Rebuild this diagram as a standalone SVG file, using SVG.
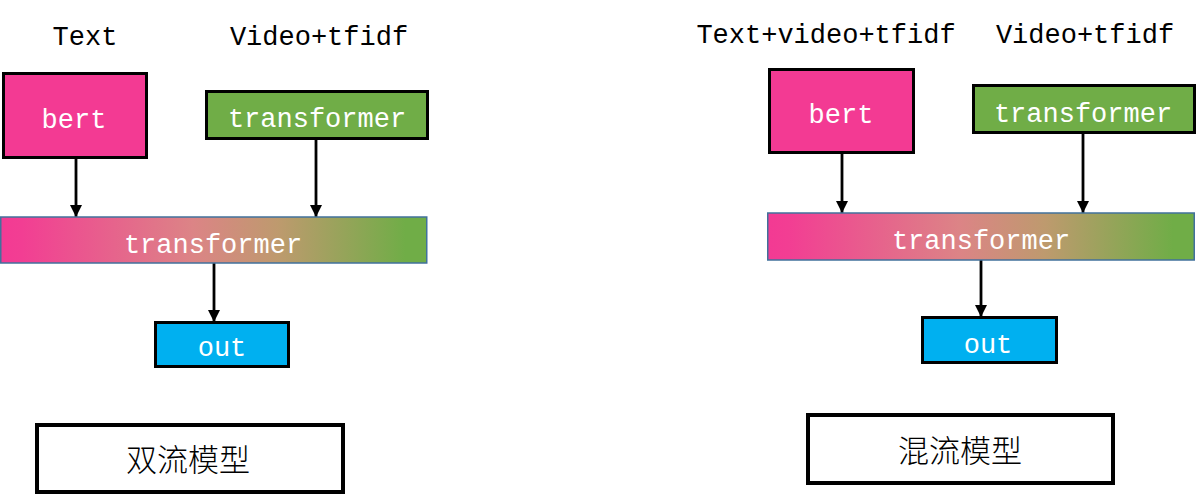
<svg xmlns="http://www.w3.org/2000/svg" width="1200" height="500" viewBox="0 0 1200 500">
<defs>
<linearGradient id="grad" x1="0" y1="0" x2="1" y2="0">
<stop offset="0" stop-color="#F33A93"/>
<stop offset="0.05" stop-color="#F23E93"/>
<stop offset="0.45" stop-color="#DC8486"/>
<stop offset="0.65" stop-color="#BE9A6E"/>
<stop offset="0.95" stop-color="#70AD47"/>
<stop offset="1" stop-color="#70AD47"/>
</linearGradient>
<marker id="arr" viewBox="0 0 12 12" refX="12" refY="6" markerWidth="12" markerHeight="12" markerUnits="userSpaceOnUse" orient="auto">
<path d="M0,0 L12,6 L0,12 z" fill="#000"/>
</marker>
</defs>
<style>
.lbl{font-family:"Liberation Mono","DejaVu Sans Mono",monospace;font-size:27px;fill:#000;text-anchor:middle}
.wt{font-family:"Liberation Mono","DejaVu Sans Mono",monospace;font-size:27px;fill:#FFFFFF;text-anchor:middle}
.cn{font-family:"Noto Sans CJK SC",sans-serif;font-size:31px;font-weight:300;fill:#000;text-anchor:middle}
.blk{stroke:#000;stroke-width:3}
.bar{fill:url(#grad);stroke:#41719C;stroke-width:1.5}
.cap{fill:#FFFFFF;stroke:#000;stroke-width:4}
.edge{stroke:#000;stroke-width:2.8;fill:none;marker-end:url(#arr)}
</style>
<rect width="1200" height="500" fill="#FFFFFF"/>
<text class="lbl" x="85" y="45">Text</text>
<text class="lbl" x="319" y="45">Video+tfidf</text>
<text class="lbl" x="826" y="43">Text+video+tfidf</text>
<text class="lbl" x="1085" y="43">Video+tfidf</text>
<g id="connectors">
<line class="edge" x1="76" y1="158" x2="76" y2="217"/>
<line class="edge" x1="316" y1="139" x2="316" y2="217"/>
<line class="edge" x1="214" y1="263" x2="214" y2="322"/>
<line class="edge" x1="842" y1="153" x2="842" y2="213"/>
<line class="edge" x1="1083" y1="133" x2="1083" y2="213"/>
<line class="edge" x1="981" y1="260" x2="981" y2="317"/>
</g>
<g id="bert-left">
<rect class="blk" x="3.5" y="73.5" width="143" height="84" fill="#F33A93"/>
<text class="wt" x="74" y="128">bert</text>
</g>
<g id="transformer-left">
<rect class="blk" x="206.5" y="91.5" width="221" height="47" fill="#70AD47"/>
<text class="wt" x="317" y="127">transformer</text>
</g>
<g id="fusion-left">
<rect class="bar" x="0.75" y="217" width="426" height="46"/>
<text class="wt" x="213" y="253">transformer</text>
</g>
<g id="out-left">
<rect class="blk" x="155.5" y="322.5" width="133" height="44" fill="#00B0F0"/>
<text class="wt" x="222" y="356">out</text>
</g>
<g id="caption-left">
<rect class="cap" x="37" y="425" width="306" height="67"/>
<text class="cn" x="188" y="471">双流模型</text>
</g>
<g id="bert-right">
<rect class="blk" x="769.5" y="69.5" width="144" height="83" fill="#F33A93"/>
<text class="wt" x="841" y="123">bert</text>
</g>
<g id="transformer-right">
<rect class="blk" x="973.5" y="85.5" width="221" height="47" fill="#70AD47"/>
<text class="wt" x="1083" y="122">transformer</text>
</g>
<g id="fusion-right">
<rect class="bar" x="767.75" y="213" width="426.5" height="47"/>
<text class="wt" x="981" y="249">transformer</text>
</g>
<g id="out-right">
<rect class="blk" x="922.5" y="317.5" width="134" height="45" fill="#00B0F0"/>
<text class="wt" x="988" y="353">out</text>
</g>
<g id="caption-right">
<rect class="cap" x="808" y="415" width="305" height="68"/>
<text class="cn" x="960" y="462">混流模型</text>
</g>
</svg>
